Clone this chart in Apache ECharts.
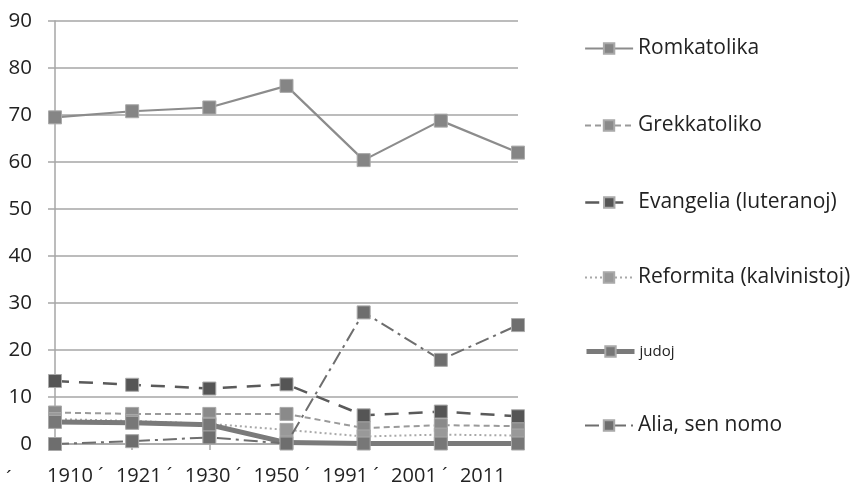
<!DOCTYPE html>
<html>
<head>
<meta charset="utf-8">
<script src="https://cdn.jsdelivr.net/npm/echarts@6/dist/echarts.min.js"></script>
<style>
html,body{margin:0;padding:0;background:#fff;}
#chart{width:855px;height:486px;}
</style>
</head>
<body>
<div id="chart"></div>
<script>
const years = ['1910', '1921', '1930', '1950', '1991', '2001', '2011'];
const tickLabels = ['1910 ´', '1921 ´', '1930 ´', '1950 ´', '1991 ´', '2001 ´', '2011'];
const romkatolika = [69.5, 70.8, 71.6, 76.2, 60.4, 68.8, 62.0];
const grekkatoliko = [6.7, 6.4, 6.4, 6.4, 3.4, 4.0, 3.8];
const evangelia = [13.4, 12.6, 11.8, 12.7, 6.1, 6.9, 5.9];
const reformita = [5.3, 4.9, 4.3, 3.0, 1.6, 2.0, 1.8];
const judoj = [4.7, 4.5, 4.1, 0.3, 0.1, 0.1, 0.1];
const alia = [0.0, 0.6, 1.4, 0.1, 28.0, 17.9, 25.3];
const names = ['Romkatolika', 'Grekkatoliko', 'Evangelia (luteranoj)', 'Reformita (kalvinistoj)', 'judoj', 'Alia, sen nomo'];

const FONT = '"Open Sans", "Noto Sans", sans-serif';
const chart = echarts.init(document.getElementById('chart'), null, {renderer: 'canvas'});

const styles = [
  {color: '#8c8c8c', m: '#858585', w: 2.2, t: 'solid'},
  {color: '#9a9a9a', m: '#8a8a8a', w: 2, t: [6, 4]},
  {color: '#5a5a5a', m: '#555555', w: 2.5, t: [14, 10]},
  {color: '#a8a8a8', m: '#999999', w: 2, t: [2, 3]},
  {color: '#7a7a7a', m: '#777777', w: 5, t: 'solid'},
  {color: '#6e6e6e', m: '#6e6e6e', w: 2, t: [14, 5, 3, 5]}
];
const seriesData = [romkatolika, grekkatoliko, evangelia, reformita, judoj, alia];

const legendTops = [48, 125, 202, 277, 350, 425];
const legends = names.map((n, i) => ({
  data: [n],
  left: 584,
  top: legendTops[i] - (n === 'judoj' ? 6 : 10),
  orient: 'vertical',
  padding: 0,
  itemWidth: 48,
  itemHeight: 13,
  selectedMode: false,
  lineStyle: {width: styles[i].w, type: styles[i].t, color: styles[i].color},
  textStyle: {fontFamily: FONT, fontSize: n === 'judoj' ? 15 : 21, color: '#222'}
}));

const option = {
  backgroundColor: '#fff',
  animation: false,
  legend: legends,
  grid: [
    {left: 55, right: 337, top: 21, bottom: 42},
    {left: 12.7, width: 481.6, top: 21, bottom: 42}
  ],
  xAxis: [
    {
      type: 'category', gridIndex: 0, data: years, boundaryGap: false,
      axisLine: {show: true, lineStyle: {color: '#a6a6a6', width: 1.5}},
      axisTick: {show: true, alignWithLabel: true, length: 6, lineStyle: {color: '#a6a6a6', width: 1.5}},
      axisLabel: {show: false},
      splitLine: {show: false}
    },
    {
      type: 'category', gridIndex: 1, data: tickLabels, boundaryGap: true,
      axisLine: {show: false}, axisTick: {show: false}, splitLine: {show: false},
      axisLabel: {show: true, interval: 0, align: 'left', margin: 26, fontFamily: FONT, fontSize: 20, color: '#222'}
    }
  ],
  yAxis: [
    {
      type: 'value', gridIndex: 0, min: 0, max: 90, interval: 10,
      axisLine: {show: true, lineStyle: {color: '#a6a6a6', width: 1.5}},
      axisTick: {show: true, length: 7, lineStyle: {color: '#a6a6a6', width: 1.5}},
      axisLabel: {fontFamily: FONT, fontSize: 20.5, color: '#222', margin: 23},
      splitLine: {show: true, lineStyle: {color: '#a6a6a6', width: 1.5}}
    },
    {
      type: 'value', gridIndex: 1, min: 0, max: 90, show: false
    }
  ],
  graphic: [
    {type: 'text', left: 6, top: 469, style: {text: '´', font: '20px ' + FONT, fill: '#222'}}
  ],
  series: names.map((n, i) => ({
    name: n, type: 'line', data: seriesData[i], xAxisIndex: 0, yAxisIndex: 0,
    symbol: 'rect', symbolSize: 13, z: 2 + i,
    lineStyle: {color: styles[i].color, width: styles[i].w, type: styles[i].t},
    itemStyle: {color: styles[i].m, borderColor: '#a9a9a9', borderWidth: 1, opacity: 1},
    emphasis: {disabled: true},
    animation: false
  }))
};
chart.setOption(option);
</script>
</body>
</html>
